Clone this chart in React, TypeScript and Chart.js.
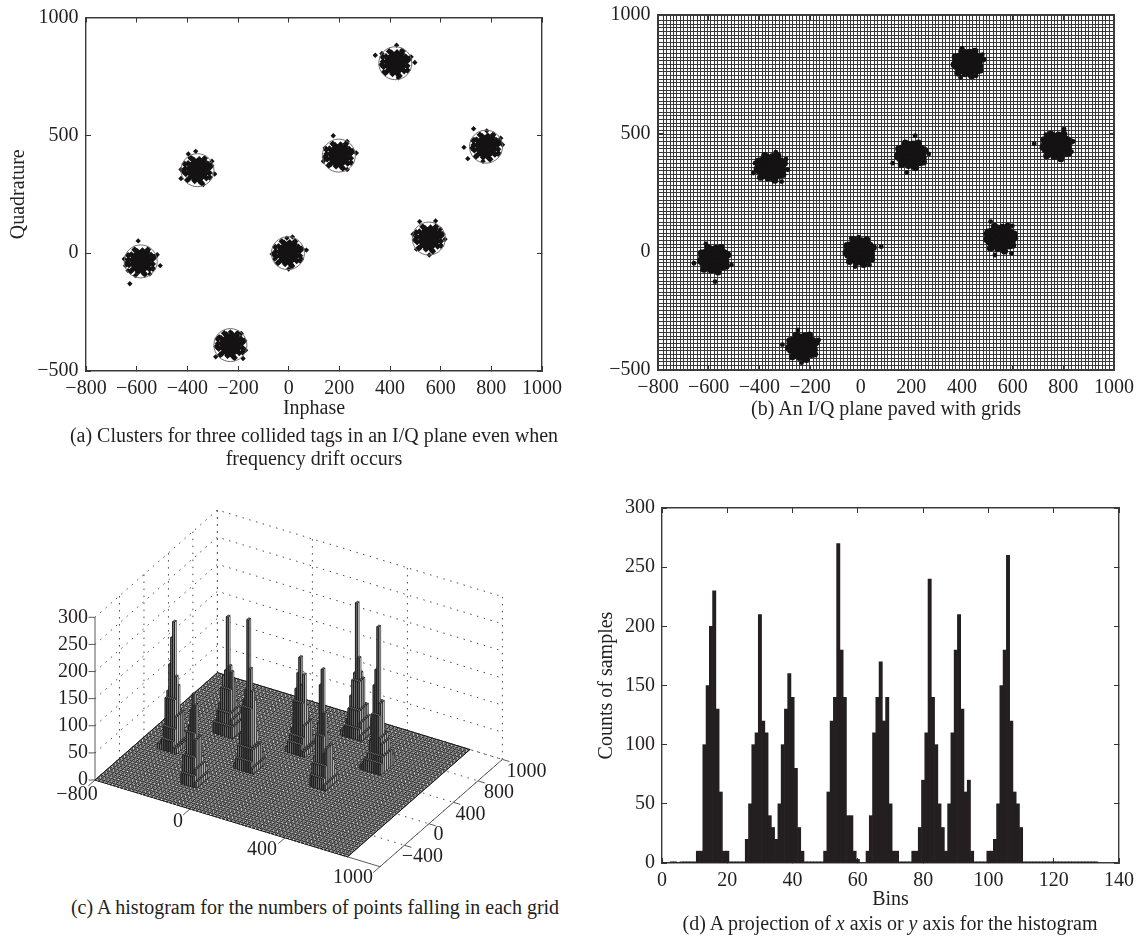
import React, { useEffect, useRef } from "react";
import { Chart, registerables } from "chart.js";

Chart.register(...registerables);

const SERIF = '"Liberation Serif", serif';
const INK = "#231f20";

// Cluster centres (a) and (b)
const centersA = [[-584, -35], [-360, 352], [-230, -390], [-3, 0], [198, 414], [421, 806], [553, 62], [779, 452]];
const centersB = [[-579, -32], [-355, 356], [-230, -402], [-4, 0], [200, 409], [423, 797], [552, 57], [774, 447]];

// Dense core of each cluster, as offsets from its centre
const blobCore = [[0, 0], [15, 5], [-14, 8], [4, -16], [-8, -12], [12, -10], [-3, 17], [32, 4], [28, 20], [15, 31], [-4, 35], [-22, 26], [-34, 8], [-32, -11], [-20, -29], [0, -34], [19, -28], [31, -15], [46, 9], [41, 27], [26, 39], [7, 46], [-15, 44], [-37, 29], [-48, 7], [-46, -15], [-33, -35], [-11, -45], [11, -48], [35, -33], [47, -11], [54, 18], [-54, -6], [16, -54], [-24, 50], [-50, 26], [48, -30], [28, 50], [-40, -42]];

// Sparse outer samples, panel (a)
const outliersA = [
  [-594, 52], [-627, -130], [-507, -53], [-519, -7], [-649, -25], [-644, -53], [-634, -74], [-548, -88], [-605, -95],
  [-367, 432], [-396, 421], [-425, 317], [-425, 355], [-292, 336], [-337, 291], [-389, 404], [-303, 390],
  [-230, -334], [-288, -440], [-180, -447], [-274, -355], [-170, -412], [-187, -341], [-266, -428],
  [15, 69], [70, 13], [0, -67], [-65, -4], [-55, -25], [-7, 64], [51, -25],
  [176, 498], [267, 425], [231, 355], [231, 474], [137, 390], [144, 446], [166, 376],
  [426, 882], [342, 840], [498, 809], [483, 833], [433, 744], [368, 847], [447, 861], [375, 769], [469, 776],
  [517, 134], [580, 137], [555, -8], [617, 59], [491, 80], [505, 17], [599, 102],
  [730, 528], [692, 449], [707, 401], [782, 519], [844, 460], [837, 488], [735, 481], [767, 390], [829, 425],
];

// Sparse outer samples, panel (b)
const outliersB = [
  [-611, 33], [-658, -49], [-510, -56], [-575, -127], [-522, -10],
  [-335, 420], [-424, 332], [-312, 296], [-295, 391], [-417, 374], [-288, 346],
  [-248, -331], [-309, -393], [-233, -469], [-166, -373], [-288, -402],
  [81, 21], [-37, 57], [-8, 61], [-58, 0], [35, -56], [-22, -63],
  [215, 490], [269, 413], [126, 374], [183, 334], [143, 409],
  [401, 860], [487, 811], [365, 790], [394, 736], [456, 743], [480, 832],
  [513, 127], [599, 109], [613, 57], [494, 75], [530, -14], [595, -7],
  [685, 456], [803, 518], [839, 466], [717, 444], [832, 423], [731, 494],
];

// Panel (d): counts per bin, starting at bin 0
const binCounts = [
  0, 0, 0, 1, 1, 0, 1, 1, 1, 1, 1,
  10, 10, 100, 150, 200, 230, 130, 60, 10, 10,
  1, 1, 1, 1, 1,
  20, 50, 100, 110, 210, 120, 110, 40, 30, 20,
  50, 100, 130, 160, 140, 80, 30, 10,
  1, 1, 1, 1, 1, 1,
  10, 60, 120, 140, 270, 180, 140, 40, 40, 10,
  3, 0, 0,
  10, 40, 110, 140, 170, 120, 140, 50, 10, 10,
  1, 1, 1, 1,
  10, 10, 30, 70, 110, 240, 140, 100, 50, 30, 10,
  50, 110, 180, 210, 130, 60, 70, 10,
  1, 1, 1, 1,
  10, 10, 20, 50, 150, 180, 260, 120, 60, 50, 30,
  1, 1, 1, 1, 1, 1, 1, 1, 1, 1, 1, 1, 1, 1, 1, 1, 1, 1, 1, 1, 1, 1, 1,
];

// Panel (c): the eight towers. Bin range along x, bin along y, and cross-section along y
const towerFirstBin = [11, 26, 36, 50, 63, 77, 88, 100];
const towerLastBin = [20, 35, 43, 59, 72, 87, 95, 110];
const towerRowBin = [54, 84, 28, 57, 87, 118, 62, 92];
const towerProfiles = [
  [20, 60, 110, 300, 90, 40, 20],
  [20, 50, 90, 300, 80, 40, 20],
  [20, 40, 80, 300, 90, 50, 20],
  [20, 60, 120, 300, 110, 40, 20],
  [20, 50, 80, 300, 90, 30, 20],
  [20, 50, 110, 300, 100, 50, 20],
  [20, 40, 90, 300, 90, 40, 20],
  [20, 60, 120, 300, 100, 30, 20],
];
const towerRowOffsets = [6, 4, 2, 0, -2, -4, -6];

// Panel (c) axes
const zTicks = [0, 50, 100, 150, 200, 250, 300];
const xAxisTicks = [0, 1 / 3, 2 / 3, 1];
const xAxisLabels = ["−800", "0", "400", "1000"];
const xLabelOffsets = [[-18, 15], [-12, 13], [-23, 12], [-27, 11]];
const yAxisTicks = [0.2, 0.4, 0.6, 0.8, 1];
const yAxisLabels = ["−400", "0", "400", "800", "1000"];
const yLabelOffsets = [[18, 12], [9.5, 10.5], [17, 12.5], [21, 12.3], [24, 12.6]];

const minus = (v: number | string) => String(v).replace("-", "−");

function fixedAxis(size: number) {
  return (s: any) => {
    if (s.isHorizontal()) s.height = size;
    else s.width = size;
    s.paddingTop = s.paddingBottom = s.paddingLeft = s.paddingRight = 0;
  };
}

function frameScale(opts: any) {
  const { pos, min, max, step, size, pad, title, titlePad, labels, tick = 5 } = opts;
  return {
    type: "linear",
    position: pos,
    min,
    max,
    offset: false,
    afterFit: fixedAxis(size),
    border: { display: true, color: "#3a3a3a", width: 1.4 },
    grid: { offset: false, drawOnChartArea: false, tickLength: -tick, tickColor: "#333", tickWidth: 1 },
    ticks: {
      display: labels,
      stepSize: step,
      autoSkip: false,
      maxRotation: 0,
      padding: pad,
      color: INK,
      font: { family: SERIF, size: 20 },
      callback: minus,
    },
    title: title
      ? { display: true, text: title, color: INK, font: { family: SERIF, size: 20 }, padding: titlePad }
      : { display: false },
  };
}

function pavingScale(pos: string, min: number, max: number, step: number) {
  return {
    type: "linear",
    position: pos,
    min,
    max,
    afterFit: fixedAxis(0),
    border: { display: false },
    grid: { drawTicks: false, color: "#3a3a3a", lineWidth: 1, z: -1 },
    ticks: { display: false, stepSize: step, autoSkip: false },
  };
}

const baseOptions = {
  responsive: false,
  animation: false as const,
  events: [] as any[],
  layout: { padding: 0 },
  plugins: { legend: { display: false }, tooltip: { enabled: false } },
};

function clusterPoints(centers: number[][]) {
  const pts: { x: number; y: number }[] = [];
  for (const [cx, cy] of centers) for (const [dx, dy] of blobCore) pts.push({ x: cx + dx, y: cy + dy });
  return pts;
}

const toXY = (rows: number[][]) => rows.map(([x, y]) => ({ x, y }));

function chartA(c: HTMLCanvasElement) {
  return new Chart(c, {
    type: "scatter",
    data: {
      datasets: [
        { data: toXY(centersA), pointStyle: "circle", pointRadius: 16.5, borderWidth: 1, pointBorderColor: "#6d6d6d", pointBackgroundColor: "rgba(0,0,0,0)" },
        { data: toXY(centersA), pointStyle: "circle", pointRadius: 10.5, pointBackgroundColor: "#141213", pointBorderWidth: 0 },
        { data: clusterPoints(centersA), pointStyle: "rectRot", pointRadius: 3.4, pointBackgroundColor: "#141213", pointBorderWidth: 0 },
        { data: toXY(outliersA), pointStyle: "rectRot", pointRadius: 2.7, pointBackgroundColor: "#141213", pointBorderWidth: 0 },
      ],
    },
    options: {
      ...baseOptions,
      scales: {
        x: frameScale({ pos: "bottom", min: -800, max: 1000, step: 200, size: 59, pad: 11, labels: true, title: "Inphase", titlePad: { top: 0, bottom: 9 } }),
        xTop: frameScale({ pos: "top", min: -800, max: 1000, step: 200, size: 15, pad: 0, labels: false }),
        y: frameScale({ pos: "left", min: -500, max: 1000, step: 500, size: 86, pad: 12.5, labels: true, title: "Quadrature", titlePad: { top: 7, bottom: 0 } }),
        yRight: frameScale({ pos: "right", min: -500, max: 1000, step: 500, size: 28, pad: 0, labels: false }),
      },
    } as any,
  } as any);
}

function chartB(c: HTMLCanvasElement) {
  return new Chart(c, {
    type: "scatter",
    data: {
      datasets: [
        { data: clusterPoints(centersB), pointStyle: "circle", pointRadius: 3.5, pointBackgroundColor: "#141213", pointBorderWidth: 0 },
        { data: toXY(outliersB), pointStyle: "circle", pointRadius: 2.4, pointBackgroundColor: "#141213", pointBorderWidth: 0 },
      ],
    },
    options: {
      ...baseOptions,
      scales: {
        x: frameScale({ pos: "bottom", min: -800, max: 1000, step: 200, size: 30, pad: 11, labels: true }),
        xTop: frameScale({ pos: "top", min: -800, max: 1000, step: 200, size: 15, pad: 0, labels: false }),
        y: frameScale({ pos: "left", min: -500, max: 1000, step: 500, size: 88, pad: 12.5, labels: true }),
        yRight: frameScale({ pos: "right", min: -500, max: 1000, step: 500, size: 23, pad: 0, labels: false }),
        xPave: pavingScale("bottom", -800, 1000, 13.43),
        yPave: pavingScale("left", -500, 1000, 15.5),
      },
    } as any,
  } as any);
}

// Projection of panel (c), in page-sized scale units
const ORIGIN = [95, 780];
const A_VEC = [285, 86.7];
const B_VEC = [122.4, -107.3];
const Z_PER_COUNT = -162.7 / 300;
const MESH_BINS = 134;
const MESH_A = 0.886;

const project = (a: number, b: number, z = 0) => ({
  x: ORIGIN[0] + A_VEC[0] * a + B_VEC[0] * b,
  y: ORIGIN[1] + A_VEC[1] * a + B_VEC[1] * b + Z_PER_COUNT * z,
});
const projectBin = (i: number, j: number, z = 0) => project((i / MESH_BINS) * MESH_A, j / MESH_BINS, z);
const GAP = { x: null as any, y: null as any };

function chartC(c: HTMLCanvasElement) {
  const line = (data: any[], color: string, width: number, dash: number[] = []) => ({
    data, showLine: true, borderColor: color, borderWidth: width, borderDash: dash, pointRadius: 0, spanGaps: false, fill: false, tension: 0,
  });
  const poly = (data: any[], fillColor: string, stroke: string, width: number) => ({
    data: [...data, data[0]], showLine: true, borderColor: stroke, borderWidth: width, backgroundColor: fillColor, fill: "shape", pointRadius: 0, tension: 0,
  });

  // Dotted back walls and floor
  const walls: any[] = [];
  for (const z of zTicks) walls.push(project(0, 0, z), project(0, 1, z), project(1, 1, z), GAP);
  for (const b of yAxisTicks) walls.push(project(0, b, 0), project(0, b, 300), GAP, project(0, b, 0), project(1, b, 0), GAP);
  for (const a of xAxisTicks) walls.push(project(a, 1, 0), project(a, 1, 300), GAP, project(a, 0, 0), project(a, 1, 0), GAP);

  // Solid axes and tick stubs
  const axes: any[] = [project(0, 0, 0), project(0, 0, 300), GAP, project(0, 0, 0), project(1, 0, 0), project(1, 1, 0), GAP];
  for (const z of zTicks) {
    const p = project(0, 0, z);
    axes.push(p, { x: p.x - 6.5, y: p.y }, GAP);
  }
  for (const a of xAxisTicks) axes.push(project(a, 0, 0), project(a, -0.055, 0), GAP);
  for (const b of yAxisTicks) axes.push(project(1, b, 0), project(1.024, b, 0), GAP);

  // Floor mesh with its light speckle
  const meshDir1: any[] = [];
  const meshDir2: any[] = [];
  const speckle: any[] = [];
  for (let i = 0; i <= MESH_BINS; i += 1) meshDir1.push(projectBin(i, 0), projectBin(i, MESH_BINS), GAP);
  for (let j = 0; j <= MESH_BINS; j += 2) meshDir2.push(projectBin(0, j), projectBin(MESH_BINS, j), GAP);
  for (let i = 1; i <= MESH_BINS; i += 2) speckle.push(projectBin(i, 0), projectBin(i, MESH_BINS), GAP);

  // Towers, back to front
  const cells: { i: number; j: number; h: number }[] = [];
  towerFirstBin.forEach((first, t) => {
    for (let i = first; i <= towerLastBin[t]; i++) {
      towerRowOffsets.forEach((off, r) => {
        const h = Math.min(binCounts[i], towerProfiles[t][r]);
        if (h >= 8) cells.push({ i, j: towerRowBin[t] + off, h });
      });
    }
  });
  cells.sort((p, q) => projectBin(p.i, p.j).y - projectBin(q.i, q.j).y);

  const painted: any[] = [
    line(walls, "#4a4a4a", 1, [1.5, 5.5]),
    line(axes, "#5a5a5a", 1),
    poly([projectBin(0, 0), projectBin(MESH_BINS, 0), projectBin(MESH_BINS, MESH_BINS), projectBin(0, MESH_BINS)], "#a8a8a8", "#333", 1),
    line(meshDir1, "#0a0a0a", 0.7),
    line(meshDir2, "#0a0a0a", 0.6),
    line(speckle, "#f0f0f0", 1, [1.4, 2.6]),
  ];
  for (const { i, j, h } of cells) {
    const i0 = i - 0.5, i1 = i + 0.5, j0 = j - 1, j1 = j + 1;
    painted.push(poly([projectBin(i0, j0), projectBin(i1, j0), projectBin(i1, j0, h), projectBin(i0, j0, h)], "#8f8f8f", "#1a1a1a", 0.6));
    painted.push(poly([projectBin(i1, j0), projectBin(i1, j1), projectBin(i1, j1, h), projectBin(i1, j0, h)], "#d4d4d4", "#1a1a1a", 0.6));
    painted.push(poly([projectBin(i0, j0, h), projectBin(i1, j0, h), projectBin(i1, j1, h), projectBin(i0, j1, h)], "#6f6f6f", "#1a1a1a", 0.6));
  }

  const labels3d = {
    id: "labels3d",
    afterDatasetsDraw(chart: any) {
      const { ctx, scales } = chart;
      const put = (p: { x: number; y: number }, dx: number, dy: number, text: string) => {
        ctx.fillText(text, scales.x.getPixelForValue(p.x) + dx, scales.y.getPixelForValue(p.y) + dy);
      };
      ctx.save();
      ctx.font = `20px ${SERIF}`;
      ctx.fillStyle = INK;
      ctx.textBaseline = "middle";
      ctx.textAlign = "right";
      for (const z of zTicks) put(project(0, 0, z), -7, 0, String(z));
      ctx.textAlign = "center";
      xAxisTicks.forEach((a, k) => put(project(a, 0, 0), xLabelOffsets[k][0], xLabelOffsets[k][1], xAxisLabels[k]));
      yAxisTicks.forEach((b, k) => put(project(1, b, 0), yLabelOffsets[k][0], yLabelOffsets[k][1], yAxisLabels[k]));
      ctx.restore();
    },
  };

  return new Chart(c, {
    type: "scatter",
    data: { datasets: painted.reverse() },
    options: {
      ...baseOptions,
      scales: {
        x: { type: "linear", display: false, min: 0, max: 570 },
        y: { type: "linear", display: false, min: 480, max: 895, reverse: true },
      },
    } as any,
    plugins: [labels3d],
  } as any);
}

function chartD(c: HTMLCanvasElement) {
  return new Chart(c, {
    type: "bar",
    data: {
      datasets: [
        {
          data: binCounts.map((v, i) => ({ x: i, y: v })),
          backgroundColor: "#231f20",
          borderWidth: 0,
          barPercentage: 1,
          categoryPercentage: 1,
          inflateAmount: 0.33,
        },
      ],
    },
    options: {
      ...baseOptions,
      scales: {
        x: frameScale({ pos: "bottom", min: 0, max: 140, step: 20, size: 52, pad: 11, labels: true, title: "Bins", titlePad: { top: 0, bottom: 3 } }),
        xTop: frameScale({ pos: "top", min: 0, max: 140, step: 20, size: 28, pad: 0, labels: false }),
        y: frameScale({ pos: "left", min: 0, max: 300, step: 50, size: 72, pad: 12, labels: true, title: "Counts of samples", titlePad: { top: 4.5, bottom: 0 } }),
        yRight: frameScale({ pos: "right", min: 0, max: 300, step: 50, size: 18, pad: 0, labels: false }),
      },
    } as any,
  } as any);
}

function Caption({ x, y, children }: { x: number; y: number; children: React.ReactNode }) {
  return (
    <div
      style={{
        position: "absolute",
        left: x,
        top: y,
        transform: "translate(-50%, -50%)",
        whiteSpace: "nowrap",
        font: `20px ${SERIF}`,
        color: INK,
      }}
    >
      {children}
    </div>
  );
}

export default function App() {
  const a = useRef<HTMLCanvasElement>(null);
  const b = useRef<HTMLCanvasElement>(null);
  const c = useRef<HTMLCanvasElement>(null);
  const d = useRef<HTMLCanvasElement>(null);

  useEffect(() => {
    const charts = [chartA(a.current!), chartB(b.current!), chartC(c.current!), chartD(d.current!)];
    return () => charts.forEach((ch) => ch.destroy());
  }, []);

  const abs = (left: number, top: number): React.CSSProperties => ({ position: "absolute", left, top });

  return (
    <div style={{ position: "absolute", left: 0, top: 0, width: 1137, height: 937, overflow: "hidden", background: "#fff" }}>
      <canvas ref={a} width={570} height={430} style={abs(0, 0)} />
      <canvas ref={b} width={567} height={400} style={abs(570, 0)} />
      <canvas ref={c} width={570} height={415} style={abs(0, 480)} />
      <canvas ref={d} width={547} height={435} style={abs(590, 480)} />
      <Caption x={314} y={435}>(a) Clusters for three collided tags in an I/Q plane even when</Caption>
      <Caption x={314} y={458}>frequency drift occurs</Caption>
      <Caption x={886} y={408}>(b) An I/Q plane paved with grids</Caption>
      <Caption x={315} y={907}>(c) A histogram for the numbers of points falling in each grid</Caption>
      <Caption x={890} y={923}>
        (d) A projection of <i>x</i> axis or <i>y</i> axis for the histogram
      </Caption>
    </div>
  );
}
